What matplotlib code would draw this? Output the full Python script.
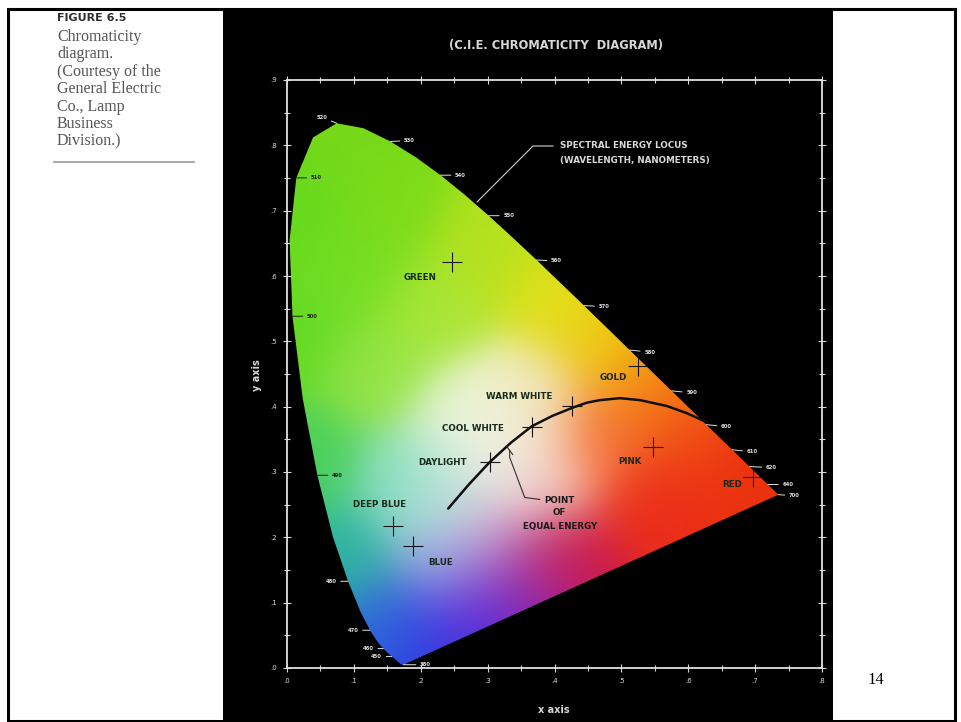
import numpy as np
import matplotlib
matplotlib.use("Agg")
import matplotlib.pyplot as plt
from matplotlib.patches import Polygon, Rectangle
from matplotlib.transforms import IdentityTransform

# --- données ---
# lieu spectral CIE 1931 (longueur d'onde nm -> x, y)
wl = [380, 400, 420, 430, 440, 445, 450, 455, 460, 465, 470, 475, 480, 485,
      490, 495, 500, 505, 510, 515, 520, 525, 530, 535, 540, 545, 550, 555,
      560, 565, 570, 575, 580, 585, 590, 595, 600, 605, 610, 615, 620, 625,
      630, 635, 640, 650, 660, 680, 700]
locus_x = [0.1741, 0.1733, 0.1714, 0.1689, 0.1644, 0.1611, 0.1566, 0.1510,
           0.1440, 0.1355, 0.1241, 0.1096, 0.0913, 0.0687, 0.0454, 0.0235,
           0.0082, 0.0039, 0.0139, 0.0389, 0.0743, 0.1142, 0.1547, 0.1929,
           0.2296, 0.2658, 0.3016, 0.3373, 0.3731, 0.4087, 0.4441, 0.4788,
           0.5125, 0.5448, 0.5752, 0.6029, 0.6270, 0.6482, 0.6658, 0.6801,
           0.6915, 0.7006, 0.7079, 0.7140, 0.7190, 0.7260, 0.7300, 0.7334,
           0.7347]
locus_y = [0.0050, 0.0048, 0.0051, 0.0069, 0.0109, 0.0138, 0.0177, 0.0227,
           0.0297, 0.0399, 0.0578, 0.0868, 0.1327, 0.2007, 0.2950, 0.4127,
           0.5384, 0.6548, 0.7502, 0.8120, 0.8338, 0.8262, 0.8059, 0.7816,
           0.7543, 0.7243, 0.6923, 0.6589, 0.6245, 0.5896, 0.5547, 0.5202,
           0.4866, 0.4544, 0.4242, 0.3965, 0.3725, 0.3514, 0.3340, 0.3197,
           0.3083, 0.2993, 0.2920, 0.2859, 0.2809, 0.2740, 0.2700, 0.2666,
           0.2653]

# longueurs d'onde étiquetées
wl_labels = [380, 450, 460, 470, 480, 490, 500, 510, 520, 530, 540, 550,
             560, 570, 580, 590, 600, 610, 620, 640, 700]

# sources lumineuses
src_names = ["GREEN", "GOLD", "WARM WHITE", "COOL WHITE", "DAYLIGHT",
             "PINK", "RED", "DEEP BLUE", "BLUE"]
src_x = [0.247, 0.525, 0.426, 0.366, 0.303, 0.547, 0.697, 0.158, 0.188]
src_y = [0.622, 0.462, 0.401, 0.369, 0.315, 0.339, 0.292, 0.217, 0.186]

# courbe du corps noir
planck_x = [0.241, 0.272, 0.303, 0.335, 0.366, 0.397, 0.426, 0.448, 0.468,
            0.498, 0.528, 0.568, 0.598, 0.628]
planck_y = [0.244, 0.281, 0.315, 0.345, 0.370, 0.386, 0.398, 0.406, 0.410,
            0.413, 0.410, 0.401, 0.390, 0.376]

equal_energy = (0.333, 0.333)

x_ticks = [0.0, 0.1, 0.2, 0.3, 0.4, 0.5, 0.6, 0.7, 0.8]
x_tick_labels = [".0", ".1", ".2", ".3", ".4", ".5", ".6", ".7", ".8"]
y_ticks = [0.0, 0.1, 0.2, 0.3, 0.4, 0.5, 0.6, 0.7, 0.8, 0.9]
y_tick_labels = [".0", ".1", ".2", ".3", ".4", ".5", ".6", ".7", ".8", ".9"]

# --- style ---
# points de couleur pour le dégradé (x, y, rgb)
color_anchors = [
    (0.07, 0.83, (118, 216, 25)), (0.01, 0.70, (102, 218, 30)),
    (0.01, 0.50, (98, 218, 35)), (0.15, 0.70, (125, 220, 25)),
    (0.10, 0.60, (115, 222, 35)),
    (0.03, 0.32, (75, 208, 90)), (0.08, 0.17, (45, 180, 160)),
    (0.14, 0.06, (45, 115, 215)), (0.20, 0.03, (45, 55, 230)),
    (0.28, 0.06, (85, 40, 220)), (0.32, 0.10, (110, 40, 210)),
    (0.37, 0.13, (170, 30, 140)), (0.42, 0.17, (210, 25, 60)),
    (0.55, 0.25, (235, 45, 25)), (0.70, 0.28, (235, 50, 15)),
    (0.60, 0.36, (240, 70, 20)), (0.55, 0.43, (245, 140, 20)),
    (0.47, 0.50, (240, 200, 15)), (0.40, 0.57, (225, 225, 25)),
    (0.30, 0.64, (180, 225, 30)), (0.22, 0.55, (170, 230, 55)),
    (0.13, 0.45, (150, 228, 70)), (0.32, 0.33, (245, 242, 238)),
    (0.27, 0.38, (235, 245, 215)), (0.36, 0.42, (240, 235, 190)),
    (0.38, 0.29, (245, 215, 205)), (0.24, 0.27, (200, 235, 225)),
    (0.18, 0.28, (130, 220, 190)), (0.24, 0.16, (150, 170, 230)),
    (0.31, 0.20, (215, 170, 210)), (0.47, 0.35, (245, 115, 55)),
]

# décalages (pixels) des étiquettes de longueur d'onde
wl_offsets = {380: (22, 0), 450: (-15, 0), 460: (-15, 0), 470: (-17, 0),
              480: (-17, 0), 490: (20, 0), 500: (20, 0), 510: (20, 0),
              520: (-15, 6), 530: (19, 1), 540: (20, 0), 550: (20, 0),
              560: (20, -1), 570: (20, -1), 580: (20, -2), 590: (20, -2),
              600: (20, -2), 610: (20, -2), 620: (22, -1), 640: (20, 0),
              700: (16, -1)}
inside_labels = [490, 500, 510]

# décalages (pixels) des noms de sources
src_offsets = [(-32, -16), (-25, -11), (-53, 10), (-59, -2), (-47, 0),
               (-23, -15), (-21, -7), (-13, 22), (28, -16)]

W, H = 961, 722


def fx(px):
    return px / W


def fy(py):
    return 1 - py / H


fig = plt.figure(figsize=(W / 100, H / 100), dpi=100)
fig.patch.set_facecolor("white")

# panneau noir et cadre de la diapositive
fig.add_artist(Rectangle((fx(223), fy(722)), fx(833) - fx(223), fy(10) - fy(722),
                         transform=fig.transFigure, facecolor="black",
                         edgecolor="none", zorder=-5))
fig.add_artist(Rectangle((fx(8), fy(721)), fx(955) - fx(8), fy(9) - fy(721),
                         transform=fig.transFigure, facecolor="none",
                         edgecolor="black", linewidth=2.2, zorder=10))

ax = fig.add_axes([fx(287), fy(668), fx(822) - fx(287), fy(80) - fy(668)])
ax.set_facecolor("black")
ax.set_xlim(0, 0.8)
ax.set_ylim(0, 0.9)

# dégradé de couleurs découpé par le lieu spectral
gx = np.linspace(0, 0.8, 400)
gy = np.linspace(0, 0.9, 450)
GX, GY = np.meshgrid(gx, gy)
AX = np.array([a[0] for a in color_anchors])
AY = np.array([a[1] for a in color_anchors])
COL = np.array([a[2] for a in color_anchors]) / 255.0
d2 = (GX[..., None] - AX) ** 2 + (GY[..., None] - AY) ** 2
wgt = np.exp(-d2 / (2 * 0.055 ** 2)) + 1e-12
rgb = np.einsum("ijk,kc->ijc", wgt, COL) / wgt.sum(-1)[..., None]
rgb = np.clip(rgb, 0, 1)

poly = Polygon(np.column_stack([locus_x, locus_y]), closed=True,
               facecolor="none", edgecolor="none")
ax.add_patch(poly)
im = ax.imshow(rgb, extent=[0, 0.8, 0, 0.9], origin="lower",
               interpolation="bilinear", aspect="auto", zorder=1)
im.set_clip_path(poly)

# étiquettes des longueurs d'onde
for lam in wl_labels:
    i = wl.index(lam)
    dx, dy = wl_offsets[lam]
    col = "#202020" if lam in inside_labels else "#e0e0e0"
    ax.annotate(str(lam), (locus_x[i], locus_y[i]), xytext=(dx, dy),
                textcoords="offset pixels", fontsize=3.8, color=col,
                fontweight="bold", ha="center", va="center", zorder=5,
                arrowprops=dict(arrowstyle="-", color=col, lw=0.7,
                                shrinkA=1, shrinkB=0))

# courbe du corps noir
ax.plot(planck_x, planck_y, color="#101010", lw=1.8, zorder=3,
        solid_capstyle="round", solid_joinstyle="round")

# sources
ax.plot(src_x, src_y, linestyle="none", marker="+", markersize=15,
        markeredgewidth=0.8, color="#151515", zorder=4)
for name, x, y, (dx, dy) in zip(src_names, src_x, src_y, src_offsets):
    ax.annotate(name, (x, y), xytext=(dx, dy), textcoords="offset pixels",
                fontsize=6.3, fontweight="bold", color="#1a2a1a",
                ha="center", va="center", zorder=5)

# point d'égale énergie
p = ax.transData.transform(equal_energy)
lead = np.array([[0, 0], [0, -7], [15, -47], [30, -49]]) + p
ax.plot(lead[:, 0], lead[:, 1], transform=IdentityTransform(),
        color="#303030", lw=0.8, zorder=4)
ax.plot([p[0] - 3, p[0] + 3], [p[1] + 4, p[1] - 4], transform=IdentityTransform(),
        color="#303030", lw=0.8, zorder=4)
for txt, dy in [("POINT", -50), ("OF", -62), ("EQUAL ENERGY", -76)]:
    ax.text(p[0] + 50, p[1] + dy, txt, transform=IdentityTransform(),
            fontsize=6.3, fontweight="bold", color="#1a1a1a", ha="center",
            va="center", zorder=5)

# légende du lieu spectral
fig.add_artist(plt.Line2D([fx(477), fx(533), fx(553)], [fy(202), fy(146), fy(146)],
                          transform=fig.transFigure, color="#d0d0d0", lw=0.8))
fig.text(fx(560), fy(146), "SPECTRAL ENERGY LOCUS", fontsize=6.3,
         fontweight="bold", color="#d8d8d8", ha="left", va="center")
fig.text(fx(560), fy(160), "(WAVELENGTH, NANOMETERS)", fontsize=6.3,
         fontweight="bold", color="#d8d8d8", ha="left", va="center")

# axes
ax.set_xticks(x_ticks)
ax.set_xticklabels(x_tick_labels)
ax.set_yticks(y_ticks)
ax.set_yticklabels(y_tick_labels)
ax.set_xticks(np.arange(0.05, 0.8, 0.1), minor=True)
ax.set_yticks(np.arange(0.05, 0.9, 0.1), minor=True)
ax.tick_params(which="both", colors="#d8d8d8", direction="inout",
               top=True, right=True, labeltop=False, labelright=False,
               labelsize=5, width=0.8)
ax.tick_params(which="major", length=6, pad=4)
ax.tick_params(which="minor", length=4)
for s in ax.spines.values():
    s.set_color("#e0e0e0")
    s.set_linewidth(1.3)

fig.text(fx(556), fy(45), "(C.I.E. CHROMATICITY  DIAGRAM)", fontsize=8.3,
         fontweight="bold", color="#d8d8d8", ha="center", va="center")
fig.text(fx(257), fy(375), "y axis", fontsize=7, fontweight="bold",
         color="#d8d8d8", ha="center", va="center", rotation=90)
fig.text(fx(554), fy(710), "x axis", fontsize=7, fontweight="bold",
         color="#d8d8d8", ha="center", va="center")

# légende de la figure
fig.text(fx(57), fy(18), "FIGURE 6.5", fontsize=8, fontweight="bold",
         color="#303030", ha="left", va="center", family="DejaVu Sans")
fig.text(fx(57), fy(29), "Chromaticity\ndiagram.\n(Courtesy of the\nGeneral Electric\n"
         "Co., Lamp\nBusiness\nDivision.)", fontsize=11.5, color="#555555",
         ha="left", va="top", family="Liberation Serif", linespacing=1.12)
fig.add_artist(plt.Line2D([fx(54), fx(194)], [fy(162), fy(162)],
                          transform=fig.transFigure, color="#999999", lw=1.2))
fig.text(fx(876), fy(680), "14", fontsize=12, color="black",
         ha="center", va="center", family="Liberation Serif")

fig.savefig("out.png", dpi=100, facecolor="white")
